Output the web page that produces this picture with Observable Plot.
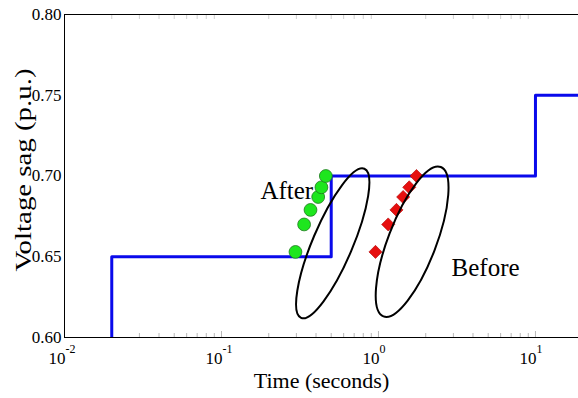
<!DOCTYPE html>
<html>
<head>
<meta charset="utf-8">
<script src="https://cdn.jsdelivr.net/npm/d3@7"></script>
<script src="https://cdn.jsdelivr.net/npm/@observablehq/plot@0.6"></script>
<style>
  html, body { margin: 0; padding: 0; background: #fff; }
  #chart svg { display: block; }
  #chart svg text { font-family: "Liberation Serif", "Times New Roman", serif; }
</style>
</head>
<body>
<div id="chart"></div>
<script>
// Tolerance curve: voltage level (p.u.) against duration (s), drawn as steps
const curveTimes = [0.02, 0.02, 0.5, 10, 20];
const curveLevels = [0.60, 0.65, 0.70, 0.75, 0.75];

// Measured sags: same depths, durations before and after mitigation
const sagLevels = [0.653, 0.670, 0.679, 0.687, 0.693, 0.700];
const afterTimes = [0.296, 0.336, 0.369, 0.413, 0.433, 0.462];
const beforeTimes = [0.957, 1.153, 1.302, 1.436, 1.570, 1.746];

// Group annotations
const groupNames = ["After", "Before"];
const groupLabelTimes = [0.177, 2.92];
const groupLabelLevels = [0.691, 0.643];
const groupCenterTimes = [0.515, 1.65];
const groupCenterLevels = [0.658, 0.659];

// Axis ticks
const xDecades = [0.01, 0.1, 1, 10];
const xExponents = ["-2", "-1", "0", "1"];
const yTicks = [0.60, 0.65, 0.70, 0.75, 0.80];

const xDomain = [0.01, 18.8];
const yDomain = [0.60, 0.80];

const curve = curveTimes.map((t, i) => ({t, v: curveLevels[i]}));
const after = afterTimes.map((t, i) => ({t, v: sagLevels[i]}));
const before = beforeTimes.map((t, i) => ({t, v: sagLevels[i]}));
const groups = groupNames.map((name, i) => ({
  name, lt: groupLabelTimes[i], lv: groupLabelLevels[i],
  ct: groupCenterTimes[i], cv: groupCenterLevels[i]
}));
const decades = xDecades.map((t, i) => ({t, e: xExponents[i]}));
const minorTicks = d3.scaleLog().domain(xDomain).ticks()
  .filter(t => !xDecades.some(d => Math.abs(d - t) < 1e-9));

const serif = "Liberation Serif";

const plot = Plot.plot({
  width: 578,
  height: 398,
  marginLeft: 64,
  marginRight: 0,
  marginTop: 14,
  marginBottom: 61,
  style: {fontFamily: serif, fontSize: "17px", background: "#fff", color: "#000"},
  x: {type: "log", domain: xDomain, axis: null},
  y: {domain: yDomain, axis: null},
  marks: [
    // faint minor and major ticks, bottom and top
    Plot.axisX({anchor: "bottom", ticks: minorTicks, tickSize: -4, tickFormat: () => "", stroke: "#b8b8b8", label: null}),
    Plot.axisX({anchor: "bottom", ticks: xDecades, tickSize: -6, tickFormat: () => "", stroke: "#b8b8b8", label: null}),
    Plot.axisX({anchor: "top", ticks: minorTicks, tickSize: -4, tickFormat: () => "", stroke: "#d0d0d0", label: null}),
    // y tick labels
    Plot.axisY({ticks: yTicks, tickSize: 0, tickPadding: 3, tickFormat: d3.format(".2f"), label: null, fontFamily: serif, fontSize: 17}),
    // x tick labels as 10 with a raised exponent
    Plot.text(decades, {x: "t", y: () => yDomain[0], text: () => "10", textAnchor: "end", dx: 1, dy: 21, fontSize: 17, fontFamily: serif}),
    Plot.text(decades, {x: "t", y: () => yDomain[0], text: "e", textAnchor: "start", dx: 1, dy: 12, fontSize: 12, fontFamily: serif}),
    // frame: left, bottom, top
    Plot.ruleX([xDomain[0]], {stroke: "#000", strokeWidth: 1}),
    Plot.ruleY([yDomain[0]], {stroke: "#000", strokeWidth: 1}),
    Plot.ruleY([yDomain[1]], {stroke: "#000", strokeWidth: 1}),
    // tolerance curve
    Plot.line(curve, {x: "t", y: "v", curve: "step-after", stroke: "#0a0aeb", strokeWidth: 3, clip: true}),
    // measured sags
    Plot.dot(after, {x: "t", y: "v", r: 6.4, symbol: "circle", fill: "#1ee61e", stroke: "#1f7a1f", strokeWidth: 0.8}),
    Plot.dot(before, {x: "t", y: "v", r: 5.9, symbol: "diamond2", fill: "#e60f0f", stroke: "#b00000", strokeWidth: 0.6}),
    // group labels
    Plot.text(groups, {x: "lt", y: "lv", text: "name", textAnchor: "start", fontSize: 25, fontFamily: serif}),
    // axis titles
    Plot.text([0], {frameAnchor: "bottom", text: () => "Time (seconds)", fontSize: 22, dy: 50, fontFamily: serif}),
    Plot.text([0], {x: () => xDomain[0], y: () => 0.70, text: () => "Voltage sag (p.u.)", fontSize: 23, rotate: -90, dx: -41, dy: -6, fontFamily: serif})
  ]
});

// Stretch the vertical title to its full run along the axis
d3.select(plot).selectAll("text")
  .filter(function () { return this.textContent === "Voltage sag (p.u.)"; })
  .attr("textLength", 203)
  .attr("lengthAdjust", "spacingAndGlyphs");

// Outline rings around each group, centred through the plot scales
const sx = plot.scale("x"), sy = plot.scale("y");
const ringShape = [{rx: 20, ry: 81, angle: 23}, {rx: 24, ry: 80, angle: 21}];
d3.select(plot).append("g")
  .attr("fill", "none")
  .attr("stroke", "#000")
  .attr("stroke-width", 2)
  .selectAll("ellipse")
  .data(groups)
  .join("ellipse")
  .attr("rx", (d, i) => ringShape[i].rx)
  .attr("ry", (d, i) => ringShape[i].ry)
  .attr("transform", (d, i) => `translate(${sx.apply(d.ct)},${sy.apply(d.cv)}) rotate(${ringShape[i].angle})`);

document.getElementById("chart").append(plot);
</script>
</body>
</html>
